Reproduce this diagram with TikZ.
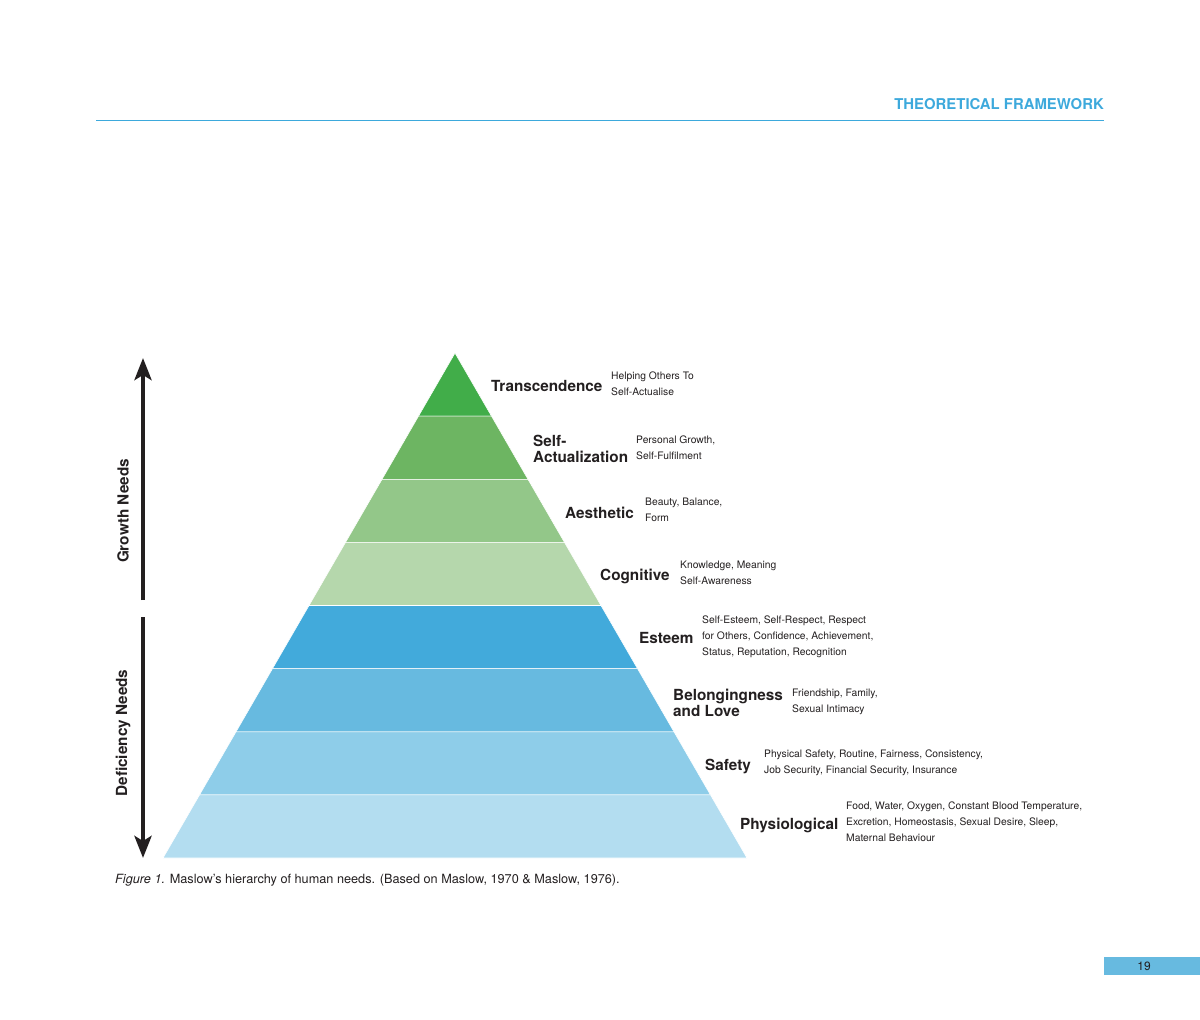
\documentclass[tikz,border=0pt]{standalone}
\usepackage{fontspec}
\setmainfont{TeX Gyre Heros}
\usepackage{xcolor}
\usepackage{tikz}
\usetikzlibrary{arrows.meta}
\definecolor{ink}{HTML}{231F20}
\definecolor{hdrblue}{HTML}{3DA9DC}
\definecolor{pgblue}{HTML}{67BAE0}
\definecolor{transc}{HTML}{41AD49}
\definecolor{selfact}{HTML}{6DB562}
\definecolor{aesth}{HTML}{93C789}
\definecolor{cogn}{HTML}{B5D7AC}
\definecolor{estm}{HTML}{42AADB}
\definecolor{belong}{HTML}{67BAE0}
\definecolor{safe}{HTML}{8ECDE9}
\definecolor{physio}{HTML}{B3DDF0}
\tikzset{layer/.style={draw=white, line width=0.6pt}}
\tikzset{lvl/.style={anchor=west, inner sep=0pt, text=ink, align=left, font=\bfseries\fontsize{15.3}{16}\selectfont}}
\tikzset{desc/.style={anchor=west, inner sep=0pt, text=ink, align=left, font=\fontsize{10.3}{16}\selectfont}}
\tikzset{need/.style={draw=ink, line width=4.5pt, -{Stealth[length=22pt, width=17pt, inset=5pt]}}}
\tikzset{needlabel/.style={rotate=90, inner sep=0pt, text=ink, font=\bfseries\fontsize{15.3}{16}\selectfont}}

\begin{document}
\begin{tikzpicture}[x=1pt, y=-1pt]
		\useasboundingbox (0,0) rectangle (1200,1020);

		% header
		\node[anchor=east, inner sep=0pt, text=hdrblue, font=\bfseries\fontsize{14.9}{16}\selectfont] at (1104,104) (hdr) {THEORETICAL FRAMEWORK};
		\coordinate (rule-l) at (96,120);
		\coordinate (rule-r) at (1104,120);
		\draw[hdrblue, line width=1pt] (rule-l) -- (rule-r);

		% pyramid
		\fill[layer, fill=transc]  (455,353) -- (491.5,416.1) -- (418.5,416.1) -- cycle;
		\fill[layer, fill=selfact] (418.5,416.1) -- (491.5,416.1) -- (528,479.3) -- (382,479.3) -- cycle;
		\fill[layer, fill=aesth]   (382,479.3) -- (528,479.3) -- (564.5,542.4) -- (345.5,542.4) -- cycle;
		\fill[layer, fill=cogn]    (345.5,542.4) -- (564.5,542.4) -- (601,605.5) -- (309,605.5) -- cycle;
		\fill[layer, fill=estm]    (309,605.5) -- (601,605.5) -- (637.5,668.6) -- (272.5,668.6) -- cycle;
		\fill[layer, fill=belong]  (272.5,668.6) -- (637.5,668.6) -- (674,731.8) -- (236,731.8) -- cycle;
		\fill[layer, fill=safe]    (236,731.8) -- (674,731.8) -- (710.5,794.9) -- (199.5,794.9) -- cycle;
		\fill[layer, fill=physio]  (199.5,794.9) -- (710.5,794.9) -- (747,858) -- (163,858) -- cycle;

		% levels
		\node[lvl] at (491,386) (trans) {Transcendence};
		\node[desc] at (611,383.5) (trans-d) {Helping Others To\\Self-Actualise};
		\node[lvl] at (533,449) (self) {Self-\\Actualization};
		\node[desc] at (636,447.5) (self-d) {Personal Growth,\\Self-Fulfilment};
		\node[lvl] at (565,513) (aes) {Aesthetic};
		\node[desc] at (645,510) (aes-d) {Beauty, Balance,\\Form};
		\node[lvl] at (600,576) (cog) {Cognitive};
		\node[desc] at (680,573) (cog-d) {Knowledge, Meaning\\Self-Awareness};
		\node[lvl] at (639,638) (est) {Esteem};
		\node[desc] at (702,637) (est-d) {Self-Esteem, Self-Respect, Respect\\for Others, Confidence, Achievement,\\Status, Reputation, Recognition};
		\node[lvl] at (673,703) (bel) {Belongingness\\and Love};
		\node[desc] at (792,702) (bel-d) {Friendship, Family,\\Sexual Intimacy};
		\node[lvl] at (705,766) (saf) {Safety};
		\node[desc] at (764,763) (saf-d) {Physical Safety, Routine, Fairness, Consistency,\\Job Security, Financial Security, Insurance};
		\node[lvl] at (740,825) (phy) {Physiological};
		\node[desc] at (846,822) (phy-d) {Food, Water, Oxygen, Constant Blood Temperature,\\Excretion, Homeostasis, Sexual Desire, Sleep,\\Maternal Behaviour};

		% needs arrows
		\coordinate (growth-s) at (143,600);
		\coordinate (growth-e) at (143,358);
		\coordinate (defic-s) at (143,617);
		\coordinate (defic-e) at (143,858);
		\draw[need] (growth-s) -- (growth-e);
		\draw[need] (defic-s) -- (defic-e);
		\node[needlabel] at (123,511) (growth) {Growth Needs};
		\node[needlabel] at (123,733) (defic) {Deficiency Needs};

		% caption and page
		\node[anchor=west, inner sep=0pt, text=ink, font=\fontsize{12.7}{14}\selectfont] at (115,880) (caption) {\textit{Figure 1.} Maslow’s hierarchy of human needs. (Based on Maslow, 1970 \& Maslow, 1976).};
		\fill[pgblue] (1104,957) rectangle (1200,975);
		\node[inner sep=0pt, text=ink, font=\fontsize{12}{14}\selectfont] at (1144,966) (page) {19};
		\end{tikzpicture}
\end{document}
